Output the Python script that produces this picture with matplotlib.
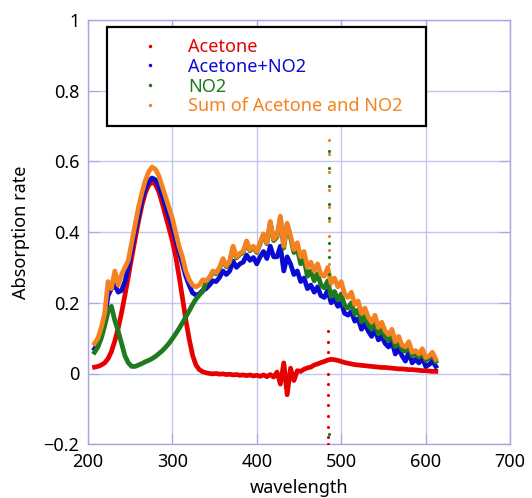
import matplotlib
matplotlib.use("Agg")
import matplotlib.pyplot as plt
from matplotlib.lines import Line2D

plt.rcParams['font.family'] = ['Noto Sans', 'DejaVu Sans']

# wavelength grid (nm), every 4 nm
wavelength = [
    208, 212, 216, 220, 224, 228, 232, 236, 240, 244, 248, 252, 256, 260, 264, 268, 272,
    276, 280, 284, 288, 292, 296, 300, 304, 308, 312, 316, 320, 324, 328, 332, 336, 340,
    344, 348, 352, 356, 360, 364, 368, 372, 376, 380, 384, 388, 392, 396, 400, 404, 408,
    412, 416, 420, 424, 428, 432, 436, 440, 444, 448, 452, 456, 460, 464, 468, 472, 476,
    480, 484, 488, 492, 496, 500, 504, 508, 512, 516, 520, 524, 528, 532, 536, 540, 544,
    548, 552, 556, 560, 564, 568, 572, 576, 580, 584, 588, 592, 596, 600, 604, 608, 612,
]

acetone = [
    0.018, 0.020, 0.024, 0.030, 0.042, 0.062, 0.092, 0.128, 0.172, 0.222, 0.274, 0.328, 0.380, 0.430, 0.475, 0.510, 0.532,
    0.542, 0.535, 0.515, 0.483, 0.447, 0.412, 0.376, 0.332, 0.276, 0.215, 0.152, 0.098, 0.052, 0.024, 0.011, 0.005, 0.002,
    0.000, -0.001, 0.000, -0.002, -0.001, -0.003, -0.002, -0.004, -0.003, -0.005, -0.004, -0.006, -0.004, -0.007, -0.005, -0.008, -0.004,
    -0.009, -0.003, -0.010, 0.004, -0.030, 0.030, -0.060, 0.015, -0.020, 0.008, 0.006, 0.012, 0.016, 0.018, 0.024, 0.027, 0.031,
    0.034, 0.038, 0.040, 0.039, 0.037, 0.034, 0.031, 0.029, 0.027, 0.025, 0.024, 0.023, 0.022, 0.021, 0.020, 0.019, 0.018,
    0.017, 0.017, 0.016, 0.015, 0.014, 0.013, 0.013, 0.012, 0.011, 0.011, 0.010, 0.009, 0.008, 0.008, 0.007, 0.006, 0.006,
]

acetone_no2 = [
    0.070, 0.085, 0.115, 0.155, 0.220, 0.240, 0.250, 0.230, 0.235, 0.260, 0.300, 0.350, 0.400, 0.445, 0.490, 0.522, 0.543,
    0.553, 0.548, 0.530, 0.505, 0.475, 0.445, 0.415, 0.380, 0.345, 0.310, 0.275, 0.250, 0.228, 0.222, 0.225, 0.235, 0.240,
    0.250, 0.262, 0.260, 0.272, 0.290, 0.280, 0.290, 0.318, 0.300, 0.310, 0.315, 0.335, 0.320, 0.328, 0.310, 0.330, 0.345,
    0.325, 0.360, 0.330, 0.330, 0.360, 0.290, 0.330, 0.310, 0.280, 0.290, 0.260, 0.270, 0.240, 0.250, 0.230, 0.245, 0.220,
    0.215, 0.235, 0.200, 0.210, 0.190, 0.200, 0.170, 0.165, 0.175, 0.148, 0.155, 0.125, 0.140, 0.120, 0.105, 0.125, 0.095,
    0.105, 0.085, 0.075, 0.090, 0.055, 0.070, 0.050, 0.035, 0.060, 0.030, 0.040, 0.030, 0.045, 0.020, 0.025, 0.035, 0.020,
]

no2 = [
    0.060, 0.075, 0.100, 0.135, 0.175, 0.190, 0.150, 0.120, 0.085, 0.050, 0.030, 0.020, 0.020, 0.024, 0.028, 0.033, 0.037,
    0.042, 0.048, 0.056, 0.064, 0.074, 0.085, 0.098, 0.112, 0.127, 0.143, 0.160, 0.177, 0.195, 0.210, 0.222, 0.232, 0.258,
    0.269, 0.287, 0.282, 0.297, 0.322, 0.302, 0.315, 0.357, 0.327, 0.337, 0.342, 0.372, 0.347, 0.357, 0.342, 0.367, 0.392,
    0.367, 0.427, 0.376, 0.386, 0.440, 0.355, 0.420, 0.384, 0.342, 0.352, 0.310, 0.322, 0.275, 0.290, 0.262, 0.282, 0.250,
    0.242, 0.262, 0.218, 0.232, 0.208, 0.225, 0.192, 0.185, 0.200, 0.168, 0.180, 0.146, 0.162, 0.138, 0.125, 0.145, 0.112,
    0.128, 0.103, 0.094, 0.110, 0.076, 0.092, 0.067, 0.063, 0.079, 0.050, 0.056, 0.046, 0.062, 0.037, 0.043, 0.053, 0.034,
]

sum_acetone_no2 = [
    0.085, 0.100, 0.130, 0.170, 0.260, 0.240, 0.290, 0.250, 0.280, 0.300, 0.320, 0.370, 0.420, 0.470, 0.510, 0.545, 0.570,
    0.584, 0.578, 0.560, 0.530, 0.500, 0.470, 0.440, 0.400, 0.360, 0.330, 0.290, 0.265, 0.250, 0.245, 0.250, 0.265, 0.262,
    0.272, 0.290, 0.285, 0.300, 0.325, 0.305, 0.318, 0.360, 0.330, 0.340, 0.345, 0.375, 0.350, 0.360, 0.345, 0.370, 0.395,
    0.370, 0.430, 0.380, 0.390, 0.445, 0.360, 0.425, 0.390, 0.350, 0.370, 0.330, 0.345, 0.300, 0.315, 0.290, 0.310, 0.280,
    0.275, 0.300, 0.255, 0.270, 0.245, 0.260, 0.225, 0.215, 0.230, 0.195, 0.205, 0.170, 0.185, 0.160, 0.145, 0.165, 0.130,
    0.145, 0.120, 0.110, 0.125, 0.090, 0.105, 0.080, 0.075, 0.090, 0.060, 0.065, 0.055, 0.070, 0.045, 0.050, 0.060, 0.040,
]

# stray points of the detector glitch near 485 nm
glitch_orange = [0.66, 0.62, 0.57, 0.52, 0.47, 0.43, 0.39, 0.35, 0.31]
glitch_green = [0.63, 0.58, 0.53, 0.48, 0.44, 0.37, 0.33, 0.28, -0.17]
glitch_red = [0.12, 0.09, 0.06, 0.00, -0.03, -0.06, -0.09, -0.12, -0.15, -0.18, -0.20]

labels = ["Acetone", "Acetone+NO2", "NO2", "Sum of Acetone and NO2"]
colors = ["#e60000", "#0a0ad2", "#1e7a1e", "#f58220"]

fig = plt.figure(figsize=(5.32, 4.98), dpi=100)
ax = fig.add_axes([0.165, 0.108, 0.794, 0.852])

ax.plot(wavelength, acetone, color=colors[0], lw=3.4, zorder=3)
ax.plot(wavelength, acetone_no2, color=colors[1], lw=3.4, zorder=4)
ax.plot(wavelength, no2, color=colors[2], lw=3.4, zorder=5)
ax.plot(wavelength, sum_acetone_no2, color=colors[3], lw=3.4, zorder=6)

ax.plot([486] * len(glitch_orange), glitch_orange, ls='', marker='.', ms=2.5, color=colors[3], zorder=6)
ax.plot([485] * len(glitch_green), glitch_green, ls='', marker='.', ms=2.5, color=colors[2], zorder=6)
ax.plot([484] * len(glitch_red), glitch_red, ls='', marker='.', ms=2.5, color=colors[0], zorder=6)

ax.set_xlim(200, 700)
ax.set_ylim(-0.2, 1.0)
ax.set_xticks([200, 300, 400, 500, 600, 700])
ax.set_yticks([-0.2, 0, 0.2, 0.4, 0.6, 0.8, 1.0])
ax.set_yticklabels(["\u22120.2", "0", "0.2", "0.4", "0.6", "0.8", "1"])

grid_c = "#c4c4f0"
ax.grid(True, color=grid_c, lw=1.0)
ax.set_axisbelow(True)
for s in ax.spines.values():
    s.set_color("#a8a8e0")
    s.set_linewidth(1.0)
ax.tick_params(direction='in', length=8, color="#a8a8e0", labelsize=13,
               top=True, right=True, pad=6)

ax.set_xlabel("wavelength", fontsize=13, labelpad=6)
ax.set_ylabel("Absorption rate", fontsize=13, labelpad=10)

handles = [Line2D([], [], ls='', marker='.', ms=3, color=c) for c in colors]
leg = ax.legend(handles, labels, loc='upper left', mode='expand',
                bbox_to_anchor=(0.045, 0.748, 0.755, 0.235),
                fontsize=13, labelcolor=colors, fancybox=False, framealpha=1,
                edgecolor='black', borderpad=0.6, handlelength=3.6,
                handletextpad=0.3, labelspacing=0.1, borderaxespad=0)
leg.get_frame().set_linewidth(1.6)
leg.set_zorder(10)

fig.savefig("out.png", dpi=100)
